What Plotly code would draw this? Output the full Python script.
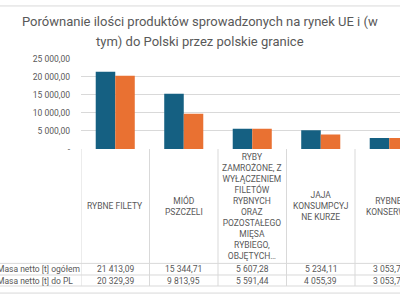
import plotly.graph_objects as go

# dane
kategorie = ["RYBNE FILETY", "MIÓD PSZCZELI", "RYBY ZAMROŻONE", "JAJA KONSUMPCYJNE KURZE", "RYBNE KONSERWY"]
etykiety = [
    "RYBNE FILETY",
    "MIÓD<br>PSZCZELI",
    "RYBY<br>ZAMROŻONE, Z<br>WYŁĄCZENIEM<br>FILETÓW<br>RYBNYCH<br>ORAZ<br>POZOSTAŁEGO<br>MIĘSA<br>RYBIEGO,<br>OBJĘTYCH…",
    "JAJA<br>KONSUMPCYJ<br>NE KURZE",
    "RYBNE<br>KONSERWY",
]
serie_nazwy = ["Masa netto [t] ogółem", "Masa netto [t] do PL"]
ogolem = [21413.09, 15344.71, 5607.28, 5234.11, 3053.72]
do_pl = [20329.39, 9813.95, 5591.44, 4055.39, 3053.72]
y_ticks = [0, 5000, 10000, 15000, 20000, 25000]

tytul1 = "Porównanie ilości produktów sprowadzonych na rynek UE i (w"
tytul2 = "tym) do Polski przez polskie granice"

KOLORY = ["#156082", "#E97132"]
SZARY = "#595959"
LINIA = "#D9D9D9"
FONT = "Roboto"
W, H = 400, 300


def fmt(v):
    if v == 0:
        return "-"
    return f"{v:,.2f}".replace(",", " ").replace(".", ",")


def py(px):
    # piksel od góry -> współrzędna paper
    return 1 - px / H


fig = go.Figure()
for nazwa, wartosci, kolor in zip(serie_nazwy, [ogolem, do_pl], KOLORY):
    fig.add_trace(go.Bar(
        x=kategorie,
        y=wartosci,
        name=nazwa,
        marker=dict(color=kolor, line=dict(width=0)),
        hoverinfo="skip",
    ))

shapes = []
# ramka wykresu (góra/dół)
for yy in [1, 298]:
    shapes.append(dict(type="line", xref="paper", yref="paper", x0=0, x1=1,
                       y0=py(yy), y1=py(yy), line=dict(color=LINIA, width=1)))
# poziome linie tabeli
for yy in [267.3, 279.3, 290.7]:
    shapes.append(dict(type="line", xref="paper", yref="paper", x0=0, x1=1,
                       y0=py(yy), y1=py(yy), line=dict(color=LINIA, width=1)))
# pionowe linie tabeli
for i in range(len(kategorie) + 1):
    shapes.append(dict(type="line", xref="x", yref="paper", x0=i - 0.5, x1=i - 0.5,
                       y0=py(149), y1=py(290.7), line=dict(color=LINIA, width=1)))

ann = [
    dict(text=tytul1, x=0.5, y=py(17), xref="paper", yref="paper", showarrow=False,
         font=dict(family=FONT, size=13, color=SZARY), xanchor="center", yanchor="middle"),
    dict(text=tytul2, x=0.5, y=py(38), xref="paper", yref="paper", showarrow=False,
         font=dict(family=FONT, size=13, color=SZARY), xanchor="center", yanchor="middle"),
]
for kat, et in zip(kategorie, etykiety):
    ann.append(dict(text=et, x=kat, y=py(208), xref="x", yref="paper", showarrow=False,
                    font=dict(family=FONT, size=8.5, color=SZARY), xanchor="center", yanchor="middle"))
for wiersz, (nazwa, wartosci) in enumerate(zip(serie_nazwy, [ogolem, do_pl])):
    yy = py(273.3 + wiersz * 11.7)
    ann.append(dict(text=nazwa, x=-0.013, y=yy, xref="paper", yref="paper", showarrow=False,
                    font=dict(family=FONT, size=8.5, color=SZARY), xanchor="left", yanchor="middle"))
    for kat, v in zip(kategorie, wartosci):
        ann.append(dict(text=fmt(v), x=kat, y=yy, xref="x", yref="paper", showarrow=False,
                        font=dict(family=FONT, size=8.5, color=SZARY), xanchor="center", yanchor="middle"))

fig.update_layout(
    width=W, height=H,
    margin=dict(l=0, r=0, t=0, b=0),
    paper_bgcolor="white",
    plot_bgcolor="white",
    barmode="group",
    bargap=0.43,
    bargroupgap=0,
    showlegend=False,
    font=dict(family=FONT, color=SZARY),
    xaxis=dict(domain=[81 / W, 1], range=[-0.5, 4.157], showticklabels=False,
               showgrid=False, zeroline=False, showline=False, ticks=""),
    yaxis=dict(domain=[py(149), py(55.7)], range=[0, 25000], tickvals=y_ticks,
               ticktext=[fmt(v) for v in y_ticks], tickfont=dict(family=FONT, size=8.5, color=SZARY),
               showgrid=True, gridcolor=LINIA, gridwidth=1, zeroline=False, showline=False,
               ticks="", ticklabelstandoff=10),
    shapes=shapes,
    annotations=ann,
)

fig.write_html("out.html", config={"displayModeBar": False},
               post_script="document.body.style.margin='0';document.body.style.overflow='hidden';")
